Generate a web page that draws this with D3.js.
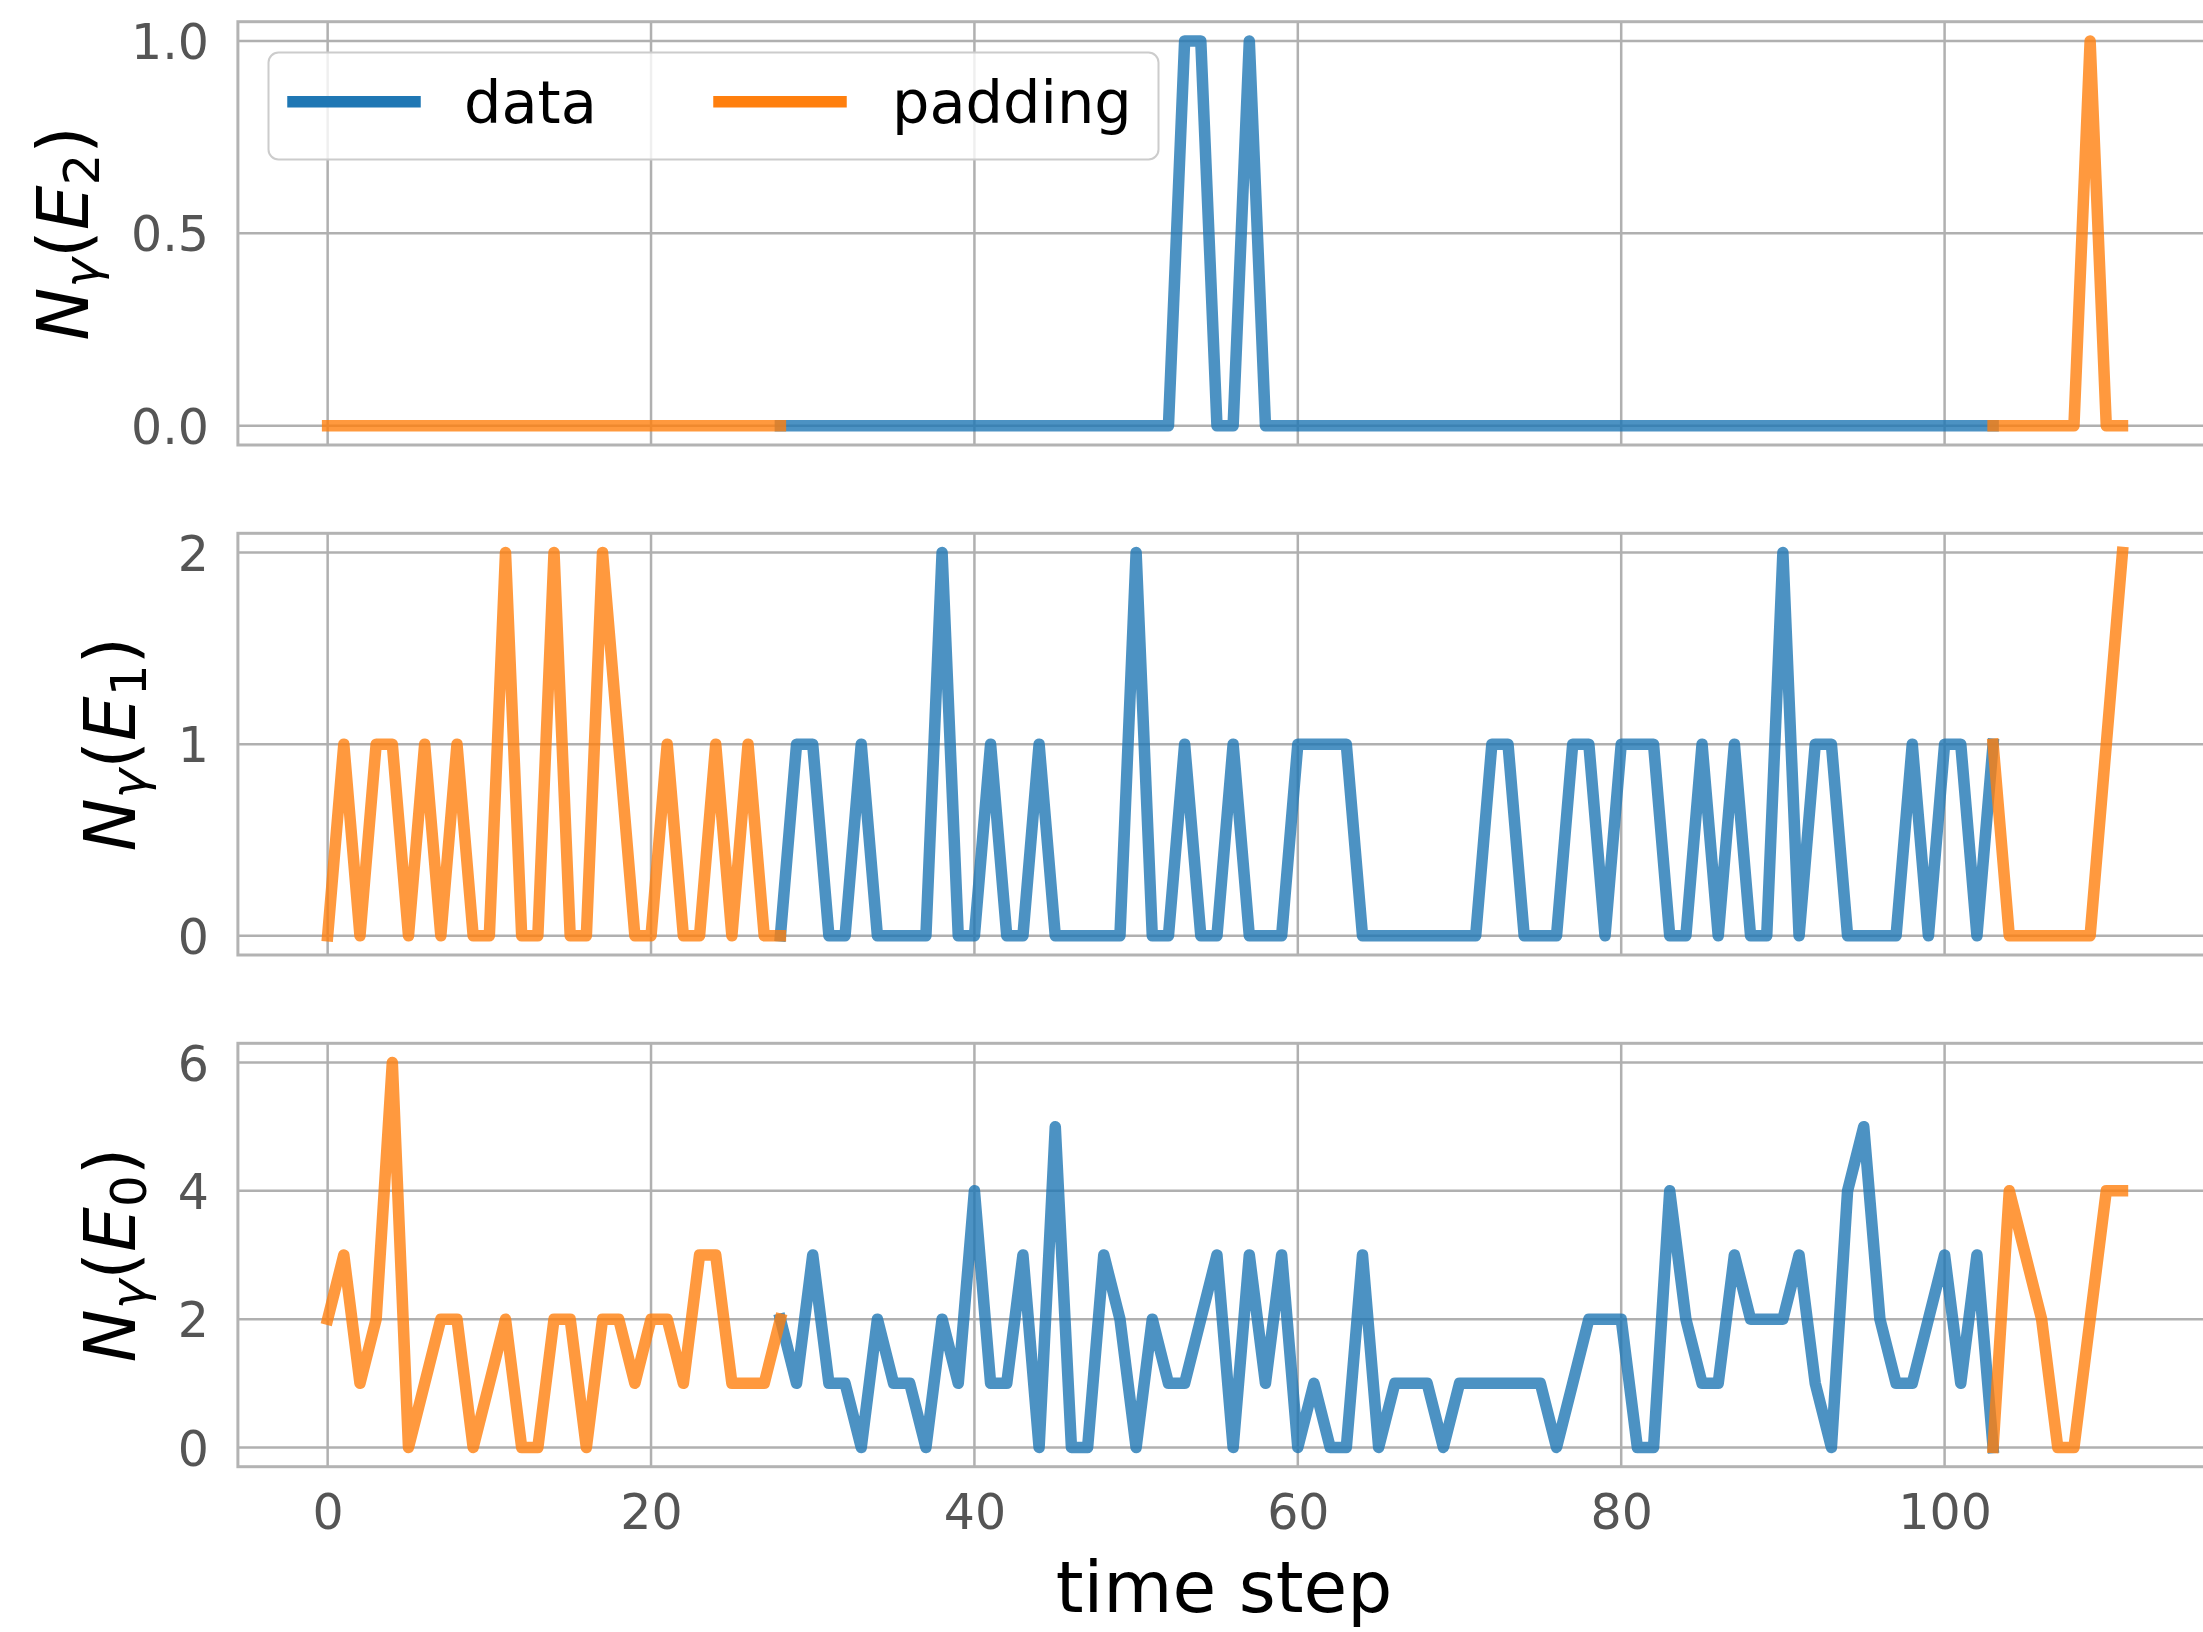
<!DOCTYPE html>
<html lang="en">
<head>
    <meta charset="UTF-8">
    <title>photon counts per time step</title>
    <script src="https://d3js.org/d3.v7.min.js"></script>
    <style>
        body { margin: 0; background: #fff; }
        svg { display: block; font-family: "DejaVu Sans", sans-serif; }
    </style>
</head>
<body>
<svg id="chart" width="2203" height="1632"></svg>

<script>
    // time steps 0..111, padding up to step 28 and again from step 103
    var steps = d3.range(112);
    var padFront = 28;
    var padBack = 103;

    var e2 = [0,0,0,0,0,0,0,0,0,0, 0,0,0,0,0,0,0,0,0,0,
              0,0,0,0,0,0,0,0,0,0, 0,0,0,0,0,0,0,0,0,0,
              0,0,0,0,0,0,0,0,0,0, 0,0,0,1,1,0,0,1,0,0,
              0,0,0,0,0,0,0,0,0,0, 0,0,0,0,0,0,0,0,0,0,
              0,0,0,0,0,0,0,0,0,0, 0,0,0,0,0,0,0,0,0,0,
              0,0,0,0,0,0,0,0,0,1, 0,0];
    var e1 = [0,1,0,1,1,0,1,0,1,0, 0,2,0,0,2,0,0,2,1,0,
              0,1,0,0,1,0,1,0,0,1, 1,0,0,1,0,0,0,0,2,0,
              0,1,0,0,1,0,0,0,0,0, 2,0,0,1,0,0,1,0,0,0,
              1,1,1,1,0,0,0,0,0,0, 0,0,1,1,0,0,0,1,1,0,
              1,1,1,0,0,1,0,1,0,0, 2,0,1,1,0,0,0,0,1,0,
              1,1,0,1,0,0,0,0,0,0, 1,2];
    var e0 = [2,3,1,2,6,0,1,2,2,0, 1,2,0,0,2,2,0,2,2,1,
              2,2,1,3,3,1,1,1,2,1, 3,1,1,0,2,1,1,0,2,1,
              4,1,1,3,0,5,0,0,3,2, 0,2,1,1,2,3,0,3,1,3,
              0,1,0,0,3,0,1,1,1,0, 1,1,1,1,1,1,0,1,2,2,
              2,0,0,4,2,1,1,3,2,2, 2,3,1,0,4,5,2,1,1,2,
              3,1,3,0,4,3,2,0,0,2, 4,4];

    var xTicks = [0, 20, 40, 60, 80, 100];
    var e2Ticks = [0, 0.5, 1];
    var e1Ticks = [0, 1, 2];
    var e0Ticks = [0, 2, 4, 6];

    var seriesNames = ["data", "padding"];
    var seriesColors = ["#1f77b4", "#ff7f0e"];

    var svg = d3.select("#chart");
    var left = 237.9, right = 2212.2;
    var lw = 11.5;
    var x = d3.scaleLinear().domain([-5.55, 116.55]).range([left, right]);

    var panels = [
        {vals: e2, sub: "2", ticks: e2Ticks, fmt: d3.format(".1f"), dom: [-0.05, 1.05], top: 21.7, bottom: 445},
        {vals: e1, sub: "1", ticks: e1Ticks, fmt: d3.format("d"), dom: [-0.1, 2.1], top: 533.3, bottom: 955},
        {vals: e0, sub: "0", ticks: e0Ticks, fmt: d3.format("d"), dom: [-0.3, 6.3], top: 1043.3, bottom: 1466.7}
    ];

    panels.forEach(function(p, k){
        drawPanel(p, k == panels.length - 1);
    });
    drawLegend();

    svg.append("text")
        .attr("x", (left + right) / 2 - 1)
        .attr("y", 1612)
        .attr("text-anchor", "middle")
        .attr("font-size", 71)
        .attr("fill", "#000")
        .text("time step");

    function drawPanel(p, showX){
        var y = d3.scaleLinear().domain(p.dom).range([p.bottom, p.top]);
        var g = svg.append("g");

        // grid
        g.selectAll(".vgrid").data(xTicks).enter().append("line")
            .attr("x1", function(d){ return x(d); })
            .attr("x2", function(d){ return x(d); })
            .attr("y1", p.top).attr("y2", p.bottom)
            .attr("stroke", "#b0b0b0").attr("stroke-width", 2.5);
        g.selectAll(".hgrid").data(p.ticks).enter().append("line")
            .attr("x1", left).attr("x2", right)
            .attr("y1", function(d){ return y(d); })
            .attr("y2", function(d){ return y(d); })
            .attr("stroke", "#b0b0b0").attr("stroke-width", 2.5);

        // data segment, then padding on top
        var dataLine = d3.line()
            .defined(function(d, i){ return i >= padFront && i <= padBack; })
            .x(function(d, i){ return x(steps[i]); })
            .y(function(d){ return y(d); });
        var padLine = d3.line()
            .defined(function(d, i){ return i <= padFront || i >= padBack; })
            .x(function(d, i){ return x(steps[i]); })
            .y(function(d){ return y(d); });

        [dataLine, padLine].forEach(function(ln, s){
            g.append("path")
                .attr("d", ln(p.vals))
                .attr("fill", "none")
                .attr("stroke", seriesColors[s])
                .attr("stroke-opacity", 0.8)
                .attr("stroke-width", lw)
                .attr("stroke-linejoin", "round")
                .attr("stroke-linecap", "square");
        });

        // spines
        g.append("rect")
            .attr("x", left).attr("y", p.top)
            .attr("width", right - left).attr("height", p.bottom - p.top)
            .attr("fill", "none")
            .attr("stroke", "#b3b3b3").attr("stroke-width", 3);

        // y tick labels
        var yAxis = g.append("g")
            .attr("transform", "translate(" + left + ",0)")
            .call(d3.axisLeft(y).tickValues(p.ticks).tickFormat(p.fmt).tickSize(0).tickPadding(29));
        yAxis.select(".domain").remove();
        yAxis.selectAll("text")
            .attr("fill", "#555").attr("font-size", 49)
            .attr("font-family", "DejaVu Sans").attr("dy", "0.36em");

        if (showX){
            var xAxis = g.append("g")
                .attr("transform", "translate(0," + p.bottom + ")")
                .call(d3.axisBottom(x).tickValues(xTicks).tickFormat(d3.format("d")).tickSize(0).tickPadding(28));
            xAxis.select(".domain").remove();
            xAxis.selectAll("text")
                .attr("fill", "#555").attr("font-size", 49)
                .attr("font-family", "DejaVu Sans");
        }

        // y label  N_gamma(E_k)
        var bx = yAxis.node().getBBox().x + left - 43;
        var lab = g.append("text")
            .attr("transform", "translate(" + bx + "," + (p.top + p.bottom) / 2 + ") rotate(-90)")
            .attr("text-anchor", "middle")
            .attr("font-size", 71)
            .attr("fill", "#000");
        lab.append("tspan").attr("font-style", "italic").text("N");
        lab.append("tspan").attr("font-style", "italic").attr("font-size", 50).attr("dy", 11).text("γ");
        lab.append("tspan").attr("dy", -11).text("(");
        lab.append("tspan").attr("font-style", "italic").text("E");
        lab.append("tspan").attr("font-size", 50).attr("dy", 11).text(p.sub);
        lab.append("tspan").attr("dy", -11).text(")");
    }

    function drawLegend(){
        var lg = svg.append("g");
        lg.append("rect")
            .attr("x", 268.5).attr("y", 52.5)
            .attr("width", 890).attr("height", 107)
            .attr("rx", 10)
            .attr("fill", "#fff").attr("fill-opacity", 0.8)
            .attr("stroke", "#cccccc").attr("stroke-width", 2);
        var handleX = [293, 719];
        var textX = [464, 892];
        seriesNames.forEach(function(name, i){
            lg.append("line")
                .attr("x1", handleX[i]).attr("x2", handleX[i] + 122)
                .attr("y1", 101.7).attr("y2", 101.7)
                .attr("stroke", seriesColors[i])
                .attr("stroke-width", lw)
                .attr("stroke-linecap", "square");
            lg.append("text")
                .attr("x", textX[i]).attr("y", 123)
                .attr("font-size", 59)
                .attr("fill", "#000")
                .text(name);
        });
    }
</script>
</body>
</html>
